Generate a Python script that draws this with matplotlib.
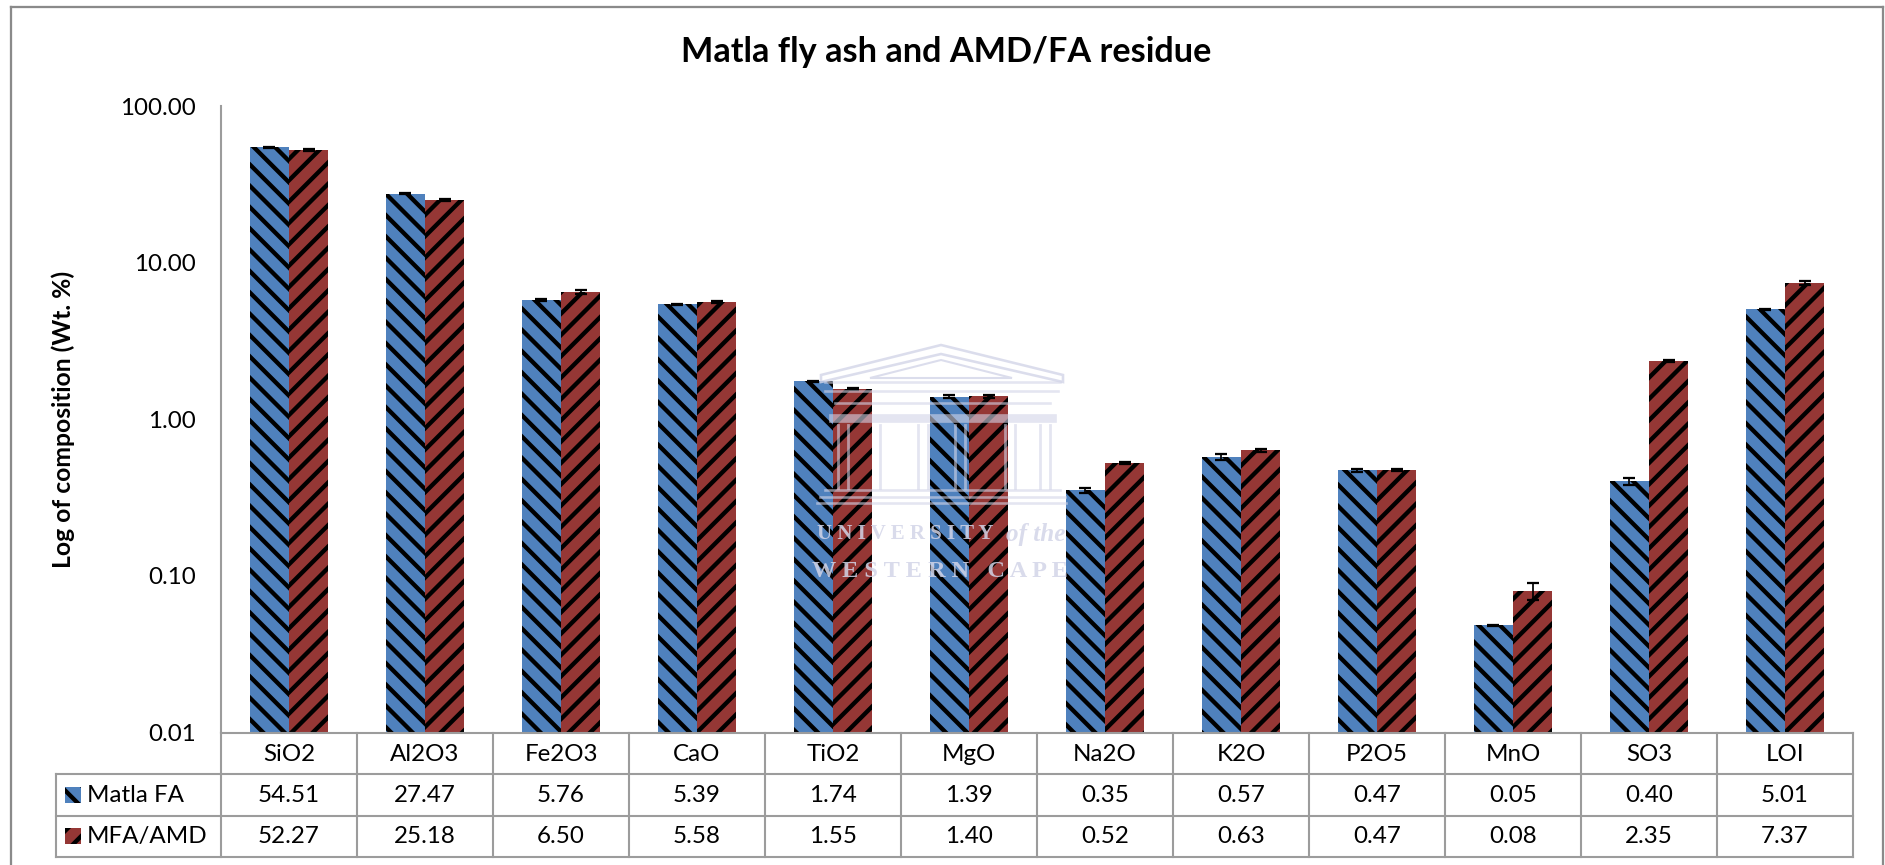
import numpy as np
import matplotlib
matplotlib.use('Agg')
import matplotlib.pyplot as plt
from matplotlib.lines import Line2D
from matplotlib.patches import Rectangle, Polygon

# Data
oxides = ['SiO2', 'Al2O3', 'Fe2O3', 'CaO', 'TiO2', 'MgO', 'Na2O', 'K2O', 'P2O5', 'MnO', 'SO3', 'LOI']
matla_fa = [54.51, 27.47, 5.76, 5.39, 1.74, 1.39, 0.35, 0.57, 0.47, 0.048, 0.40, 5.01]
mfa_amd = [52.27, 25.18, 6.50, 5.58, 1.55, 1.40, 0.52, 0.63, 0.47, 0.08, 2.35, 7.37]
err_fa = [0.3, 0.2, 0.05, 0.05, 0.02, 0.03, 0.012, 0.025, 0.01, 0.0005, 0.02, 0.06]
err_amd = [0.5, 0.3, 0.22, 0.06, 0.02, 0.03, 0.008, 0.012, 0.006, 0.01, 0.04, 0.2]
y_ticks = [0.01, 0.1, 1, 10, 100]
series_names = ['Matla FA', 'MFA/AMD']

W, H = 1885, 865
DPI = 128  # sets the hatch spacing as well
S = 125 / DPI  # font sizes below were tuned at 125 dpi
FONT = 'Lato'
BLUE = '#4f81bd'
RED = '#953735'
GRID = '#9c9c9c'
MARK = '#d3d5e8'
FS = 13.9 * S

plt.rcParams['font.family'] = FONT
plt.rcParams['hatch.linewidth'] = 2.5 * S

fig = plt.figure(figsize=((W + 0.01) / DPI, (H + 0.01) / DPI), dpi=DPI, facecolor='white')


# pixel position in the picture -> figure fraction
def fx(x):
    return x / W


def fy(y):
    return 1 - y / H


def fline(x0, y0, x1, y1, color=GRID, lw=1.2 * S, z=5):
    fig.add_artist(Line2D([fx(x0), fx(x1)], [fy(y0), fy(y1)], color=color, lw=lw, zorder=z))


# Axes
ax_left, ax_right, ax_top, ax_bottom = 221, 1853, 106, 732
ax = fig.add_axes([fx(ax_left), fy(ax_bottom), fx(ax_right - ax_left), (ax_bottom - ax_top) / H])
ax.set_yscale('log')
ax.set_ylim(0.01, 100)
ax.set_xlim(0, len(oxides))
pos = np.arange(len(oxides)) + 0.5
w = 0.288
err_style = dict(ecolor='black', elinewidth=1.0 * S, capsize=3.5 * S, capthick=1.3 * S)
ax.bar(pos - w / 2, matla_fa, w, bottom=0.0001, color=BLUE, edgecolor='black', linewidth=0,
       hatch='\\\\', yerr=err_fa, error_kw=err_style)
ax.bar(pos + w / 2, mfa_amd, w, bottom=0.0001, color=RED, edgecolor='black', linewidth=0,
       hatch='//', yerr=err_amd, error_kw=err_style)

ax.set_yticks(y_ticks)
ax.set_yticklabels(['%.2f' % t for t in y_ticks], fontsize=FS, color='black')
ax.minorticks_off()
ax.set_xticks([])
ax.tick_params(axis='y', length=0, pad=14)
for s in ['top', 'right', 'bottom']:
    ax.spines[s].set_visible(False)
ax.spines['left'].set_color(GRID)
ax.spines['left'].set_linewidth(1.2 * S)

# Title and axis label
fig.text(fx(946), fy(52), 'Matla fly ash and AMD/FA residue', fontsize=19.7 * S, fontweight='bold',
         ha='center', va='center', color='black')
fig.text(fx(63), fy(419), 'Log of composition (Wt. %)', fontsize=14.2 * S, fontweight='bold',
         rotation=90, ha='center', va='center', color='black')

# Outer frame, open at the bottom of the picture
fline(11, 7, 1883, 7, color='#8a8a8a', lw=1.3 * S)
fline(11, 7, 11, 865, color='#8a8a8a', lw=1.3 * S)
fline(1883, 7, 1883, 865, color='#8a8a8a', lw=1.3 * S)

# Data table below the chart
col_w = (ax_right - ax_left) / len(oxides)
rows = [733, 774, 816, 857]
fline(ax_left, rows[0], ax_right, rows[0])
for r in rows[1:]:
    fline(56, r, ax_right, r)
fline(56, rows[1], 56, rows[3])
for i in range(len(oxides) + 1):
    fline(ax_left + i * col_w, rows[0], ax_left + i * col_w, rows[3])

for i, name in enumerate(oxides):
    cx = ax_left + (i + 0.5) * col_w
    fig.text(fx(cx), fy(754), name, fontsize=FS, ha='center', va='center', color='black')
    fig.text(fx(cx), fy(795), '%.2f' % matla_fa[i], fontsize=FS, ha='center', va='center', color='black')
    fig.text(fx(cx), fy(836), '%.2f' % mfa_amd[i], fontsize=FS, ha='center', va='center', color='black')

for name, yc, col, hatch in zip(series_names, [795, 836], [BLUE, RED], ['\\\\', '//']):
    fig.add_artist(Rectangle((fx(65), fy(yc + 8)), 16 / W, 16 / H, transform=fig.transFigure,
                             facecolor=col, edgecolor='black', linewidth=0, hatch=hatch))
    fig.text(fx(87), fy(yc), name, fontsize=FS, ha='left', va='center', color='black')

# Faint university watermark on top of everything
roof = [(821, 375), (941, 345), (1063, 375), (1063, 382), (941, 354), (821, 382)]
fig.add_artist(Polygon([(fx(x), fy(y)) for x, y in roof], closed=True, transform=fig.transFigure,
                       facecolor='none', edgecolor=MARK, lw=1.5 * S, alpha=0.8, zorder=6))
fig.add_artist(Polygon([(fx(x), fy(y)) for x, y in [(870, 378), (941, 360), (1012, 378)]], closed=True,
                       transform=fig.transFigure, facecolor='none', edgecolor=MARK, lw=1.2 * S, alpha=0.8, zorder=6))
for y0, x0, x1, lw in [(382, 825, 1060, 1.5), (391, 825, 1058, 1.5), (403, 835, 1050, 1.5),
                       (418, 833, 1052, 5), (490, 825, 1060, 1.5), (497, 820, 1065, 1.5), (503, 817, 1066, 1.5)]:
    fig.add_artist(Line2D([fx(x0), fx(x1)], [fy(y0), fy(y0)], color=MARK, lw=lw * S, alpha=0.6, zorder=6))
for x0 in [838, 848, 880, 918, 928, 955, 965, 1005, 1015, 1040, 1050]:
    fig.add_artist(Line2D([fx(x0), fx(x0)], [fy(425), fy(488)], color=MARK, lw=1.6 * S, alpha=0.6, zorder=6))
fig.text(fx(817), fy(534), 'U N I V E R S I T Y', family='Liberation Serif', fontweight='bold', fontsize=12 * S,
         color=MARK, alpha=0.85, ha='left', va='center', zorder=6)
fig.text(fx(1065), fy(534), 'of the', family='Liberation Serif', style='italic', fontweight='bold', fontsize=14.5 * S,
         color=MARK, alpha=0.85, ha='right', va='center', zorder=6)
fig.text(fx(940), fy(571), 'W E S T E R N   C A P E', family='Liberation Serif', fontweight='bold', fontsize=14 * S,
         color=MARK, alpha=0.85, ha='center', va='center', zorder=6)

fig.savefig('out.png', dpi=DPI)
